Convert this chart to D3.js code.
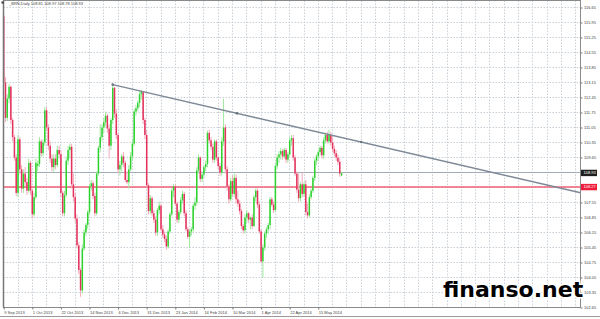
<!DOCTYPE html>
<html>
<head>
<meta charset="utf-8">
<script src="https://cdn.jsdelivr.net/npm/d3@7"></script>
<style>
body { margin: 0; background: #fff; }
svg { display: block; }
</style>
</head>
<body>
<div class="canvas"></div>
<script>
// chart data
const symbolTitle = '_BRN,Daily';

const opens = [116.25,113.15,111.50,112.40,112.95,111.40,110.60,109.65,108.00,110.50,
  109.10,108.20,108.90,108.50,108.10,109.40,108.10,107.00,107.80,109.25,
  109.35,110.40,109.85,110.35,111.85,111.05,110.20,109.60,109.20,109.60,
  109.30,110.00,109.80,108.00,107.05,107.90,109.50,110.00,110.15,108.40,
  107.80,106.80,105.55,104.40,103.45,105.40,106.15,106.50,107.10,108.30,
  108.45,107.85,107.05,108.90,110.10,110.60,111.05,111.30,111.60,111.00,
  110.20,111.40,112.90,111.70,110.70,109.10,109.30,109.70,109.40,108.60,
  108.50,109.10,109.70,110.30,111.80,111.95,112.20,112.60,112.70,111.40,
  110.70,108.35,107.15,107.75,107.05,106.75,106.15,107.20,107.40,106.30,
  106.05,105.85,105.50,106.20,107.00,108.10,108.30,107.50,106.75,107.10,
  107.65,107.95,107.05,106.30,105.95,106.20,106.30,107.40,107.55,109.05,
  109.65,108.65,108.85,109.20,109.35,110.80,110.45,110.15,109.55,110.40,
  109.65,109.25,108.95,110.40,111.05,109.10,108.30,107.70,108.55,107.95,
  108.70,107.70,107.50,107.15,106.45,106.25,106.85,107.05,106.75,106.85,
  106.45,107.80,108.10,107.45,106.20,104.80,105.45,106.10,106.30,106.50,
  107.70,107.45,107.20,109.25,109.65,109.80,109.95,109.70,110.00,109.55,
  109.80,110.45,110.55,109.65,108.90,108.15,107.75,108.40,107.95,108.40,
  107.10,106.95,107.80,108.10,108.70,109.50,109.70,109.90,110.10,109.75,
  110.45,110.70,110.40,110.70,110.35,110.05,109.85,109.65,109.45,108.81];

const highs = [116.35,113.40,112.60,113.10,113.00,111.50,110.70,109.80,110.70,110.60,
  109.30,109.10,109.20,108.70,109.60,109.50,108.20,108.00,109.60,109.50,
  110.60,110.50,110.50,112.00,112.00,111.20,110.40,109.80,109.80,109.80,
  110.20,110.20,110.00,108.10,108.10,109.70,110.20,110.30,110.30,108.90,
  108.00,107.00,105.70,104.50,105.60,106.30,106.60,107.20,108.40,108.60,
  108.55,108.00,109.00,110.20,111.20,111.20,111.50,111.80,111.70,111.20,
  111.50,113.05,112.95,111.90,110.80,109.50,109.80,109.90,109.50,109.00,
  109.30,109.90,110.50,111.90,112.10,112.30,112.75,112.80,112.75,111.50,
  110.90,108.45,107.90,107.85,107.20,106.90,107.30,107.60,107.50,106.50,
  106.20,106.00,106.30,107.10,108.20,108.40,108.40,107.60,107.20,107.80,
  108.10,108.05,107.20,106.40,106.30,106.40,107.50,107.80,109.20,109.80,
  109.70,109.00,109.30,109.50,110.90,110.95,110.60,110.30,110.50,110.50,
  109.70,109.40,110.60,112.40,111.20,109.25,108.40,108.70,108.80,108.90,
  108.85,108.10,107.65,107.25,106.55,107.00,107.20,107.10,106.90,107.00,
  107.90,108.20,108.20,107.60,106.30,105.60,106.20,106.40,106.60,107.80,
  107.80,107.60,109.40,109.80,109.95,110.10,110.05,110.10,110.10,109.90,
  110.60,110.70,110.70,109.75,109.00,108.90,108.50,108.95,108.50,108.60,
  107.50,107.95,108.20,108.80,109.60,109.80,110.00,110.20,110.20,110.60,
  110.80,110.85,110.95,110.85,110.60,110.20,110.00,109.80,109.60,108.97];

const lows = [113.00,111.30,111.35,112.20,111.20,110.40,109.50,107.85,107.80,108.90,
  108.00,108.00,108.30,107.90,108.00,107.90,106.80,106.90,107.70,109.00,
  109.20,109.70,109.70,110.20,110.90,110.00,109.40,109.00,109.00,109.10,
  109.20,109.60,107.80,106.90,106.90,107.80,109.30,109.60,108.20,107.60,
  106.60,105.40,104.20,103.15,103.30,105.30,106.00,106.30,106.95,108.10,
  107.70,106.90,106.95,108.80,109.90,110.40,110.80,111.10,110.80,109.60,
  110.00,111.20,111.50,110.50,108.90,108.80,109.00,109.20,108.50,108.40,
  108.20,109.00,109.50,110.20,111.60,111.80,112.00,112.35,111.20,110.50,
  108.20,107.00,107.00,106.90,106.60,106.00,106.00,107.00,106.20,105.90,
  105.70,105.35,105.40,106.10,106.90,107.80,107.40,106.60,106.60,107.00,
  107.50,106.90,106.20,105.85,105.45,106.00,106.20,107.20,107.40,108.90,
  108.50,108.50,108.70,109.00,109.20,110.30,110.00,109.40,109.40,109.50,
  109.10,108.80,108.80,110.20,108.90,108.10,107.50,107.60,107.80,107.80,
  107.50,107.35,107.00,106.30,106.10,106.10,106.60,106.60,106.30,106.30,
  106.40,107.60,107.30,106.10,104.70,104.05,105.30,105.90,106.10,106.30,
  107.35,107.05,107.10,109.10,109.40,109.55,109.55,109.60,109.40,109.40,
  109.70,110.20,109.50,108.80,108.00,107.60,107.60,107.80,107.80,106.95,
  106.80,106.85,107.70,108.00,108.55,109.30,109.50,109.75,109.60,109.60,
  110.30,110.30,110.30,110.20,109.90,109.70,109.50,109.30,108.75,108.78];

const closes = [113.15,111.50,112.40,112.95,111.40,110.60,109.65,108.00,110.50,109.10,
  108.20,108.90,108.50,108.10,109.40,108.10,107.00,107.80,109.40,109.35,
  110.40,109.85,110.35,111.85,111.05,110.20,109.60,109.20,109.60,109.30,
  110.00,109.80,108.00,107.05,107.90,109.50,110.00,110.15,108.40,107.80,
  106.80,105.55,104.40,103.45,105.40,106.15,106.50,107.10,108.30,108.45,
  107.85,107.05,108.90,110.10,110.60,111.05,111.30,111.60,111.00,110.20,
  111.40,112.90,111.70,110.70,109.10,109.30,109.70,109.40,108.60,108.50,
  109.10,109.70,110.30,111.80,111.95,112.20,112.60,112.70,111.40,110.70,
  108.35,107.15,107.75,107.05,106.75,106.15,107.20,107.40,106.30,106.05,
  105.85,105.50,106.20,107.00,108.10,108.30,107.50,106.75,107.10,107.65,
  107.95,107.05,106.30,105.95,106.20,106.30,107.40,107.55,109.05,109.65,
  108.65,108.85,109.20,109.35,110.80,110.45,110.15,109.55,110.40,109.65,
  109.25,108.95,110.40,111.05,109.10,108.30,107.70,108.55,107.95,108.70,
  107.70,107.50,107.15,106.45,106.25,106.85,107.05,106.75,106.85,106.45,
  107.80,108.10,107.45,106.20,104.80,105.45,106.10,106.30,106.50,107.70,
  107.45,107.20,109.25,109.65,109.80,109.95,109.70,110.00,109.55,109.80,
  110.45,110.55,109.65,108.90,108.15,107.75,108.40,107.95,108.40,107.10,
  106.95,107.80,108.10,108.70,109.50,109.70,109.90,110.10,109.75,110.45,
  110.70,110.40,110.70,110.35,110.05,109.85,109.65,109.45,108.90,108.93];

const dateLabels = ['9 Sep 2013', '1 Oct 2013', '22 Oct 2013', '14 Nov 2013', '6 Dec 2013', '31 Dec 2013',
  '23 Jan 2014', '14 Feb 2014', '10 Mar 2014', '1 Apr 2014', '22 Apr 2014', '15 May 2014'];
const dateLabelBars = [0, 16, 32, 48, 64, 80, 96, 112, 128, 144, 160, 176];

const priceLabels = [116.65, 115.95, 115.25, 114.55, 113.85, 113.15, 112.45, 111.75, 111.05, 110.35, 109.65,
  108.95, 108.25, 107.55, 106.85, 106.15, 105.45, 104.75, 104.05, 103.35, 102.65];

const bidPrice = 108.93;
const levelPrice = 108.27;
const trendBars = [61, 200];
const trendValues = [113.05, 110.37];

// layout
const dims = { width: 600, height: 319 };
const frame = { left: 3.5, right: 580.5, top: 0.5, bottom: 307.5 };
const fontFamily = '"Liberation Sans", Arial, sans-serif';

const x = d3.scaleLinear().domain([0, 322]).range([3.7, 3.7 + 1.7875 * 322]);
const y = d3.scaleLinear().domain([102.65, 116.65]).range([307.5, 7.5]);
const crisp = v => Math.floor(v) + 0.5;

const svg = d3.select('.canvas')
    .append('svg')
    .attr('width', dims.width)
    .attr('height', dims.height);

svg.append('rect')
    .attr('width', dims.width)
    .attr('height', dims.height)
    .attr('fill', '#fff');

// grid
const grid = svg.append('g')
    .attr('stroke', '#c9d0d8')
    .attr('stroke-width', 1)
    .attr('stroke-dasharray', '1.5,1.5');

grid.selectAll('line.h')
    .data(priceLabels)
    .enter().append('line')
        .attr('class', 'h')
        .attr('x1', frame.left).attr('x2', frame.right)
        .attr('y1', d => crisp(y(d))).attr('y2', d => crisp(y(d)));

grid.selectAll('line.v')
    .data(d3.range(8, 322, 8))
    .enter().append('line')
        .attr('class', 'v')
        .attr('x1', d => crisp(x(d))).attr('x2', d => crisp(x(d)))
        .attr('y1', frame.top).attr('y2', frame.bottom);

// horizontal levels
svg.append('line')
    .attr('x1', frame.left).attr('x2', frame.right)
    .attr('y1', crisp(y(bidPrice))).attr('y2', crisp(y(bidPrice)))
    .attr('stroke', '#a3aebb').attr('stroke-width', 1);

svg.append('line')
    .attr('x1', frame.left).attr('x2', frame.right)
    .attr('y1', y(levelPrice)).attr('y2', y(levelPrice))
    .attr('stroke', '#ee6276').attr('stroke-width', 1.5);

// candles
const bars = opens.map((o, i) => ({ i, o, h: highs[i], l: lows[i], c: closes[i] }));

const candles = svg.append('g');

candles.selectAll('line')
    .data(bars)
    .enter().append('line')
        .attr('x1', d => x(d.i)).attr('x2', d => x(d.i))
        .attr('y1', d => y(d.h)).attr('y2', d => y(d.l))
        .attr('stroke', d => d.c >= d.o ? '#9ee89e' : '#f3a9bb')
        .attr('stroke-width', 1);

candles.selectAll('rect')
    .data(bars)
    .enter().append('rect')
        .attr('x', d => x(d.i) - 0.75)
        .attr('width', 1.5)
        .attr('y', d => y(Math.max(d.o, d.c)))
        .attr('height', d => Math.max(0.7, Math.abs(y(d.o) - y(d.c))))
        .attr('fill', d => d.c >= d.o ? '#2fd12f' : '#e3325c');

// trendline, extended to the right edge
const trendSlope = (trendValues[1] - trendValues[0]) / (trendBars[1] - trendBars[0]);
const edgeBar = x.invert(frame.right);
const trendAt = b => trendValues[0] + trendSlope * (b - trendBars[0]);

svg.append('line')
    .attr('x1', x(trendBars[0])).attr('y1', y(trendValues[0]))
    .attr('x2', x(edgeBar)).attr('y2', y(trendAt(edgeBar)))
    .attr('stroke', '#7d8896')
    .attr('stroke-width', 1.4);

const midBar = (trendBars[0] + trendBars[1]) / 2;
svg.selectAll('circle.anchor')
    .data([trendBars[0], midBar, trendBars[1]])
    .enter().append('circle')
        .attr('class', 'anchor')
        .attr('cx', d => x(d)).attr('cy', d => y(trendAt(d)))
        .attr('r', 1.3)
        .attr('fill', '#6b7682');

// frame
svg.append('rect')
    .attr('x', frame.left).attr('y', frame.top)
    .attr('width', frame.right - frame.left).attr('height', frame.bottom - frame.top)
    .attr('fill', 'none')
    .attr('stroke', '#8a8a8a');

svg.append('line')
    .attr('x1', frame.left).attr('x2', frame.left)
    .attr('y1', frame.top).attr('y2', frame.bottom)
    .attr('stroke', '#777').attr('stroke-width', 1.5);

svg.append('line')
    .attr('x1', 0).attr('x2', dims.width)
    .attr('y1', 316.5).attr('y2', 316.5)
    .attr('stroke', '#9a9a9a');

// price axis
const yAxis = d3.axisRight(y)
    .tickValues(priceLabels)
    .tickSize(2)
    .tickPadding(1.5)
    .tickFormat(d3.format('.2f'));

svg.append('g')
    .attr('transform', `translate(${frame.right}, 0)`)
    .call(yAxis)
    .call(g => g.select('.domain').remove())
    .call(g => g.selectAll('line').attr('stroke', '#777'))
    .attr('font-size', 4)
    .attr('font-family', fontFamily)
    .call(g => g.selectAll('text').attr('fill', '#444'));

// time axis
const xAxis = d3.axisBottom(x)
    .tickValues(dateLabelBars)
    .tickSize(2)
    .tickPadding(1.5)
    .tickFormat((d, i) => dateLabels[i]);

svg.append('g')
    .attr('transform', `translate(0, ${frame.bottom})`)
    .call(xAxis)
    .call(g => g.select('.domain').remove())
    .call(g => g.selectAll('line').attr('stroke', '#777'))
    .attr('font-size', 4)
    .attr('font-family', fontFamily)
    .call(g => g.selectAll('text').attr('fill', '#444').attr('text-anchor', 'start'));

// price tags on the right
const tags = [
    { value: bidPrice, fill: '#1e1e1e' },
    { value: levelPrice, fill: '#ee1c3a' }
];

const tagGroup = svg.selectAll('g.tag')
    .data(tags)
    .enter().append('g')
        .attr('class', 'tag')
        .attr('transform', d => `translate(${frame.right + 0.5}, ${y(d.value)})`);

tagGroup.append('rect')
    .attr('x', 0).attr('y', -3.2)
    .attr('width', 16).attr('height', 6.4)
    .attr('fill', d => d.fill);

tagGroup.append('text')
    .attr('x', 2.5).attr('y', 1.4)
    .attr('font-size', 4)
    .attr('font-family', fontFamily)
    .attr('fill', '#fff')
    .text(d => d.value.toFixed(2));

// title
svg.append('rect')
    .attr('x', 1.5).attr('y', 1.5)
    .attr('width', 2).attr('height', 2)
    .attr('fill', '#333');

const last = bars[bars.length - 1];
svg.append('text')
    .attr('x', 9).attr('y', 4.6)
    .attr('font-size', 4)
    .attr('font-family', fontFamily)
    .attr('fill', '#444')
    .text(`${symbolTitle} ${last.o.toFixed(2)} ${last.h.toFixed(2)} ${last.l.toFixed(2)} ${last.c.toFixed(2)}`);

// watermark
svg.append('text')
    .attr('x', 443).attr('y', 297)
    .attr('font-size', 22)
    .attr('font-weight', 'bold')
    .attr('font-family', '"DejaVu Sans", sans-serif')
    .attr('fill', '#000')
    .attr('stroke', '#fff')
    .attr('stroke-width', 3)
    .attr('paint-order', 'stroke')
    .text('finanso.net');
</script>
</body>
</html>
